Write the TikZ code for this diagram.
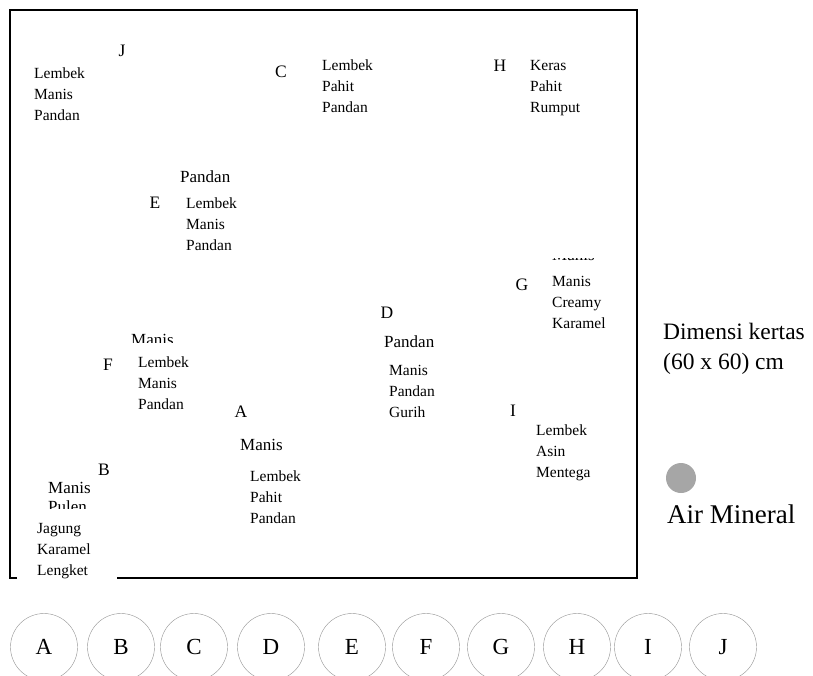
\documentclass[tikz,border=0pt]{standalone}
\usepackage{fontspec}
\setmainfont{Liberation Serif}
\usetikzlibrary{positioning}
\definecolor{dotgray}{HTML}{A6A6A6}

\begin{document}
\begin{tikzpicture}[x=1pt, y=-1pt,
  lbl/.style={font=\fontsize{17.5}{20}\selectfont, anchor=base, inner sep=0pt},
  desc/.style={font=\fontsize{15.5}{21}\selectfont, align=left, anchor=base west, inner sep=0pt},
  word/.style={font=\fontsize{17}{20}\selectfont, anchor=base west, inner sep=0pt},
  piece/.style={circle, draw=gray!85, minimum size=67pt, inner sep=0pt, font=\fontsize{23}{26}\selectfont}]
  \useasboundingbox (0,0) rectangle (813,675);

  % paper
  \draw[line width=1.3pt] (17,578) -- (10,578) -- (10,10) -- (637,10) -- (637,578) -- (117,578);

  % J
  \node[lbl] (labJ) at (122,56) {J};
  \node[desc] (descJ) at (34,120) {Lembek\\Manis\\Pandan};
  % C
  \node[lbl] (labC) at (281,77) {C};
  \node[desc] (descC) at (322,112) {Lembek\\Pahit\\Pandan};
  % H
  \node[lbl] (labH) at (500,71) {H};
  \node[desc] (descH) at (530,112) {Keras\\Pahit\\Rumput};
  % E
  \node[word] (wordE) at (180,182) {Pandan};
  \node[lbl] (labE) at (155,208) {E};
  \node[desc] (descE) at (186,250) {Lembek\\Manis\\Pandan};
  % G
  \begin{scope}
    \clip (540,258) rectangle (600,263);
    \node[word] (wordG) at (552,260) {Manis};
  \end{scope}
  \node[lbl] (labG) at (522,290) {G};
  \node[desc] (descG) at (552,328) {Manis\\Creamy\\Karamel};
  % D
  \node[lbl] (labD) at (387,318) {D};
  \node[word] (wordD) at (384,347) {Pandan};
  \node[desc] (descD) at (389,417) {Manis\\Pandan\\Gurih};
  % F
  \begin{scope}
    \clip (120,325) rectangle (190,342);
    \node[word] (wordF) at (131,345) {Manis};
  \end{scope}
  \node[lbl] (labF) at (108,370) {F};
  \node[desc] (descF) at (138,409) {Lembek\\Manis\\Pandan};
  % A
  \node[lbl] (labA) at (241,417) {A};
  \node[word] (wordA) at (240,450) {Manis};
  \node[desc] (descA) at (250,523) {Lembek\\Pahit\\Pandan};
  % I
  \node[lbl] (labI) at (513,416) {I};
  \node[desc] (descI) at (536,477) {Lembek\\Asin\\Mentega};
  % B
  \node[lbl] (labB) at (104,475) {B};
  \node[word] (wordB) at (48,493) {Manis};
  \begin{scope}
    \clip (40,495) rectangle (100,508);
    \node[word] (wordB2) at (48,512) {Pulen};
  \end{scope}
  \node[desc] (descB) at (37,575) {Jagung\\Karamel\\Lengket};

  % legend
  \node[font=\fontsize{23.5}{30}\selectfont, align=left, anchor=base west, inner sep=0pt] (paper) at (663,369) {Dimensi kertas\\(60 x 60) cm};
  \node[circle, fill=dotgray, minimum size=30pt, inner sep=0pt] (water) at (681,478) {};
  \node[font=\fontsize{27}{30}\selectfont, anchor=base west, inner sep=0pt] (waterlab) at (667,523) {Air Mineral};

  % samples
  \foreach \x/\t in {44/A,121/B,194/C,271/D,352/E,426/F,501/G,577/H,648/I,723/J}
    \node[piece] (p\t) at (\x,647) {\t};
\end{tikzpicture}
\end{document}
